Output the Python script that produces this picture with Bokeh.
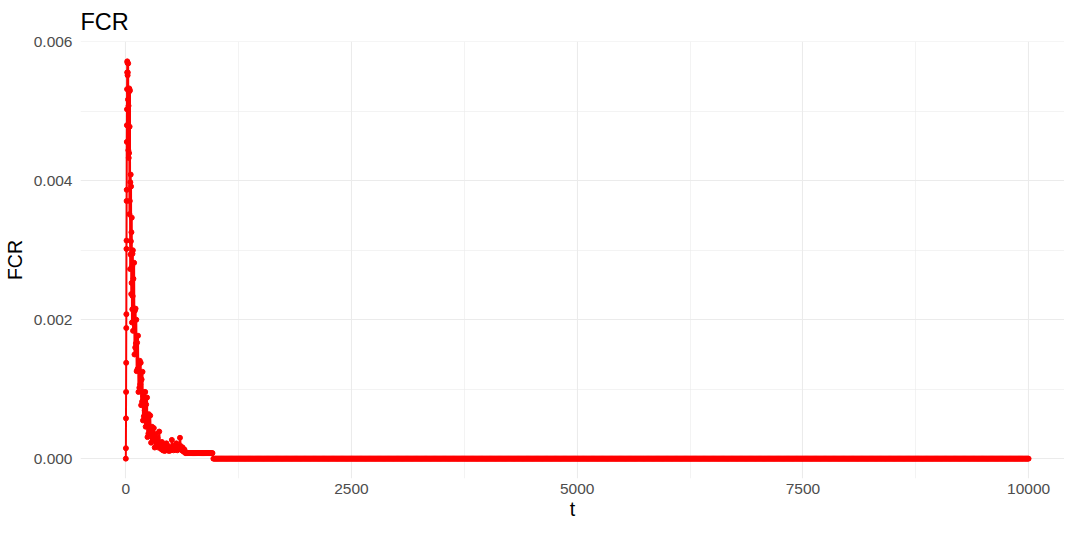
from bokeh.plotting import figure
from bokeh.models import FixedTicker, PrintfTickFormatter, Range1d, ColumnDataSource
from bokeh.embed import file_html
from bokeh.resources import INLINE

# ---- data ----
rise_t = [0, 1, 2, 3, 4, 5, 6, 7, 8, 9, 10, 11, 12, 13, 14, 15, 16]
rise_fcr = [0.0, 0.00015, 0.00058, 0.00096, 0.00138, 0.00188, 0.00208, 0.00302,
            0.00314, 0.00371, 0.00387, 0.00456, 0.00480, 0.00503, 0.00532, 0.00556, 0.00572]

decay_t = [18, 20, 22, 24, 26, 28, 30, 32, 34, 36, 38, 40, 42, 44, 46, 48, 50, 52, 54,
           56, 58, 60, 62, 64, 66, 68, 70, 72, 74, 76, 78, 80, 84, 88, 92, 96, 100, 104,
           108, 112, 116, 120, 125, 130, 135, 140, 145, 150, 155, 160, 165, 170, 175,
           180, 185, 190, 195, 200, 205, 210, 215, 220, 225, 230, 235, 240, 245, 250,
           255, 260, 270, 280, 290, 300, 310]
decay_fcr = [0.00570, 0.00552, 0.00556, 0.00517, 0.00569, 0.00444, 0.00508, 0.00433,
             0.00528, 0.00440, 0.00533, 0.00352, 0.00478, 0.00371, 0.00530, 0.00273,
             0.00398, 0.00294, 0.00409, 0.00313, 0.00392, 0.00237, 0.00326, 0.00253,
             0.00347, 0.00196, 0.00277, 0.00215, 0.00295, 0.00234, 0.00300, 0.00184,
             0.00259, 0.00198, 0.00282, 0.00150, 0.00213, 0.00160, 0.00216, 0.00166,
             0.00200, 0.00126, 0.00167, 0.00129, 0.00177, 0.00096, 0.00136, 0.00102,
             0.00141, 0.00107, 0.00138, 0.00077, 0.00114, 0.00082, 0.00125, 0.00055,
             0.00090, 0.00061, 0.00096, 0.00069, 0.00096, 0.00046, 0.00078, 0.00052,
             0.00088, 0.00031, 0.00060, 0.00036, 0.00064, 0.00041, 0.00062, 0.00023,
             0.00046, 0.00027, 0.00044]

floor_t = [320, 330, 340, 350, 360, 370, 380, 390, 400, 410, 420, 430, 440, 450, 460,
           470, 480, 490, 500, 510, 520, 530, 540, 550, 560, 570, 580, 590, 600, 610,
           620, 630, 640, 650]
floor_fcr = [0.00016, 0.00036, 0.00018, 0.00030, 0.00016, 0.00039, 0.00020, 0.00014,
             0.00024, 0.00012, 0.00020, 0.00011, 0.00016, 0.00022, 0.00012, 0.00018,
             0.00011, 0.00016, 0.00012, 0.00027, 0.00017, 0.00012, 0.00019, 0.00013,
             0.00022, 0.00012, 0.00016, 0.00014, 0.00030, 0.00018, 0.00012, 0.00016,
             0.00010, 0.00013]

plateau_t = list(range(660, 961, 10))
plateau_fcr = [0.00008] * len(plateau_t)

tail_t = list(range(970, 10001, 10))
tail_fcr = [0.0] * len(tail_t)

x_ticks = [0, 2500, 5000, 7500, 10000]
x_minor = [1250, 3750, 6250, 8750]
y_ticks = [0.0, 0.002, 0.004, 0.006]
y_minor = [0.001, 0.003, 0.005]

t = rise_t + decay_t + floor_t + plateau_t + tail_t
fcr = rise_fcr + decay_fcr + floor_fcr + plateau_fcr + tail_fcr
src = ColumnDataSource(data=dict(t=t, fcr=fcr))

FONT = "Liberation Sans"

p = figure(width=1064, height=524,
           min_border_left=80, min_border_right=0, min_border_top=40, min_border_bottom=46,
           x_range=Range1d(-502, 10398), y_range=Range1d(-0.000286, 0.006006),
           output_backend="svg", toolbar_location=None, title="FCR")

p.title.text_font = FONT
p.title.text_font_size = "23.5px"
p.title.text_font_style = "normal"
p.title.text_color = "black"
p.title.align = "left"
p.title.standoff = 13

p.outline_line_color = None
p.background_fill_color = "white"
p.border_fill_color = "white"

p.xaxis.ticker = FixedTicker(ticks=x_ticks, minor_ticks=x_minor)
p.yaxis.ticker = FixedTicker(ticks=y_ticks, minor_ticks=y_minor)
p.xaxis.formatter = PrintfTickFormatter(format="%d")
p.yaxis.formatter = PrintfTickFormatter(format="%.3f")

for ax in (p.xaxis, p.yaxis):
    ax.axis_line_color = None
    ax.major_tick_line_color = None
    ax.minor_tick_line_color = None
    ax.major_tick_out = 0
    ax.major_tick_in = 0
    ax.minor_tick_out = 0
    ax.minor_tick_in = 0
    ax.major_label_text_font = FONT
    ax.major_label_text_font_size = "15.5px"
    ax.major_label_text_color = "#4D4D4D"
    ax.axis_label_text_font = FONT
    ax.axis_label_text_font_size = "19.5px"
    ax.axis_label_text_font_style = "normal"
    ax.axis_label_text_color = "black"

p.xaxis.axis_label = "t"
p.yaxis.axis_label = "FCR"
p.yaxis.major_label_standoff = 8
p.yaxis.axis_label_standoff = 5
p.xaxis.major_label_standoff = 5
p.xaxis.axis_label_standoff = 1

for g in (p.xgrid, p.ygrid):
    g.grid_line_color = "#EBEBEB"
    g.grid_line_width = 1.1
    g.minor_grid_line_color = "#EBEBEB"
    g.minor_grid_line_width = 0.6

p.line("t", "fcr", source=src, line_color="#FF0000", line_width=2)
p.scatter("t", "fcr", source=src, size=5, fill_color="#FF0000", line_color="#FF0000")

open("out.html", "w").write(file_html(p, INLINE))
